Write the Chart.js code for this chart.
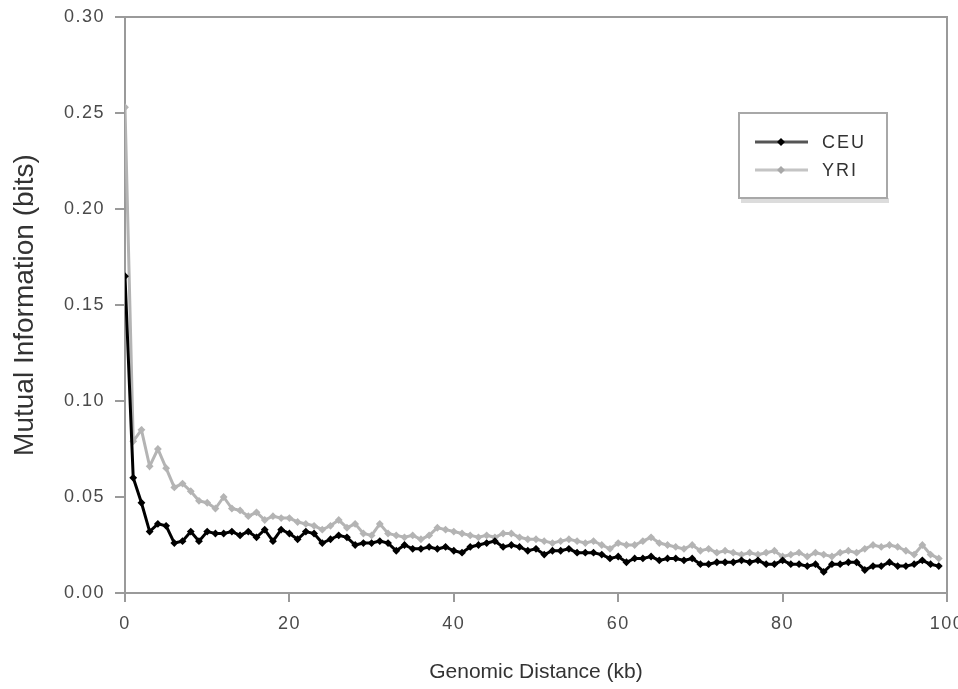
<!DOCTYPE html>
<html>
<head>
<meta charset="utf-8">
<script src="https://cdn.jsdelivr.net/npm/chart.js@4/dist/chart.umd.min.js"></script>
<style>
  html, body { margin: 0; padding: 0; background: #fff; }
  #wrap { position: relative; width: 958px; height: 689px; }
</style>
</head>
<body>
<div id="wrap"><canvas id="c" width="958" height="689"></canvas></div>
<script>
// Genomic distance (kb)
const distanceKb = Array.from({length: 100}, (_, i) => i);

const ceuValues = [
  0.165, 0.060, 0.047, 0.032, 0.036, 0.035, 0.026, 0.027, 0.032, 0.027,
  0.032, 0.031, 0.031, 0.032, 0.030, 0.032, 0.029, 0.033, 0.027, 0.033,
  0.031, 0.028, 0.032, 0.031, 0.026, 0.028, 0.030, 0.029, 0.025, 0.026,
  0.026, 0.027, 0.026, 0.022, 0.025, 0.023, 0.023, 0.024, 0.023, 0.024,
  0.022, 0.021, 0.024, 0.025, 0.026, 0.027, 0.024, 0.025, 0.024, 0.022,
  0.023, 0.020, 0.022, 0.022, 0.023, 0.021, 0.021, 0.021, 0.020, 0.018,
  0.019, 0.016, 0.018, 0.018, 0.019, 0.017, 0.018, 0.018, 0.017, 0.018,
  0.015, 0.015, 0.016, 0.016, 0.016, 0.017, 0.016, 0.017, 0.015, 0.015,
  0.017, 0.015, 0.015, 0.014, 0.015, 0.011, 0.015, 0.015, 0.016, 0.016,
  0.012, 0.014, 0.014, 0.016, 0.014, 0.014, 0.015, 0.017, 0.015, 0.014
];

const yriValues = [
  0.253, 0.079, 0.085, 0.066, 0.075, 0.065, 0.055, 0.057, 0.053, 0.048,
  0.047, 0.044, 0.050, 0.044, 0.043, 0.040, 0.042, 0.038, 0.040, 0.039,
  0.039, 0.037, 0.036, 0.035, 0.033, 0.035, 0.038, 0.034, 0.036, 0.031,
  0.030, 0.036, 0.031, 0.030, 0.029, 0.030, 0.028, 0.030, 0.034, 0.033,
  0.032, 0.031, 0.030, 0.029, 0.030, 0.029, 0.031, 0.031, 0.029, 0.028,
  0.028, 0.027, 0.026, 0.027, 0.028, 0.027, 0.026, 0.027, 0.025, 0.023,
  0.026, 0.025, 0.025, 0.027, 0.029, 0.026, 0.025, 0.024, 0.023, 0.025,
  0.022, 0.023, 0.021, 0.022, 0.021, 0.020, 0.021, 0.020, 0.021, 0.022,
  0.019, 0.020, 0.021, 0.019, 0.021, 0.020, 0.019, 0.021, 0.022, 0.021,
  0.023, 0.025, 0.024, 0.025, 0.024, 0.022, 0.020, 0.025, 0.020, 0.018
];

const seriesNames = ['CEU', 'YRI'];
const xTickValues = [0, 20, 40, 60, 80, 100];
const yTickValues = [0.00, 0.05, 0.10, 0.15, 0.20, 0.25, 0.30];

const AXIS = '#9a9a9a';
const FONT = "'Liberation Sans', Arial, sans-serif";

function spaceLabels(scale, spacing) {
  if (scale._spacedLabels) return;
  const orig = scale.drawLabels;
  scale.drawLabels = function (area) {
    const ctx = this.ctx;
    ctx.save();
    ctx.letterSpacing = spacing;
    orig.call(this, area);
    ctx.restore();
  };
  scale._spacedLabels = true;
}

const frameAndLegend = {
  id: 'frameAndLegend',
  beforeDatasetsDraw(chart) {
    const {ctx, chartArea: a} = chart;
    ctx.save();
    ctx.strokeStyle = AXIS;
    ctx.lineWidth = 2;
    ctx.beginPath();
    ctx.moveTo(a.left, a.top);
    ctx.lineTo(a.right, a.top);
    ctx.lineTo(a.right, a.bottom);
    ctx.stroke();
    ctx.restore();
  },
  afterDraw(chart) {
    const {ctx, chartArea: a} = chart;
    const bx = a.right - 208, by = a.top + 96, bw = 148, bh = 85;
    ctx.save();
    ctx.fillStyle = '#dcdcdc';
    ctx.fillRect(bx + 2, by + bh, bw, 5);
    ctx.fillStyle = '#fff';
    ctx.fillRect(bx, by, bw, bh);
    ctx.strokeStyle = '#a8a8a8';
    ctx.lineWidth = 2;
    ctx.strokeRect(bx, by, bw, bh);
    const legendLine = ['#555555', '#c4c4c4'];
    const legendMark = ['#000000', '#a8a8a8'];
    chart.data.datasets.forEach((ds, i) => {
      const ly = by + 29 + i * 28;
      ctx.strokeStyle = legendLine[i];
      ctx.lineWidth = 3;
      ctx.beginPath();
      ctx.moveTo(bx + 16, ly);
      ctx.lineTo(bx + 69, ly);
      ctx.stroke();
      ctx.fillStyle = legendMark[i];
      ctx.beginPath();
      ctx.moveTo(bx + 42, ly - 4);
      ctx.lineTo(bx + 46, ly);
      ctx.lineTo(bx + 42, ly + 4);
      ctx.lineTo(bx + 38, ly);
      ctx.closePath();
      ctx.fill();
      ctx.fillStyle = '#333';
      ctx.font = '18px ' + FONT;
      ctx.letterSpacing = '2px';
      ctx.textBaseline = 'middle';
      ctx.textAlign = 'left';
      ctx.fillText(ds.label, bx + 83, ly + 1);
    });
    ctx.restore();
  }
};

new Chart(document.getElementById('c'), {
  type: 'line',
  data: {
    labels: distanceKb,
    datasets: [
      {
        label: seriesNames[0],
        data: distanceKb.map((x, i) => ({x, y: ceuValues[i]})),
        borderColor: '#000000',
        backgroundColor: '#000000',
        borderWidth: 3,
        pointRadius: 1.8,
        pointStyle: 'rectRot',
        tension: 0,
        order: 1
      },
      {
        label: seriesNames[1],
        data: distanceKb.map((x, i) => ({x, y: yriValues[i]})),
        borderColor: '#b4b4b4',
        backgroundColor: '#a0a0a0',
        borderWidth: 3,
        pointRadius: 1.8,
        pointStyle: 'rectRot',
        tension: 0,
        order: 2
      }
    ]
  },
  options: {
    responsive: false,
    animation: false,
    devicePixelRatio: 1,
    layout: { padding: { left: 0, right: 11, top: 17, bottom: 0 } },
    plugins: { legend: { display: false }, tooltip: { enabled: false } },
    scales: {
      x: {
        type: 'linear',
        min: 0, max: 100,
        afterBuildTicks(scale) { scale.ticks = xTickValues.map(v => ({value: v})); },
        afterFit(scale) { scale.height = 96; scale.paddingLeft = 0; scale.paddingRight = 0; spaceLabels(scale, '1.5px'); },
        border: { display: true, color: AXIS, width: 2 },
        grid: { display: true, drawOnChartArea: false, drawTicks: true, tickLength: 9, color: AXIS, lineWidth: 2 },
        ticks: { color: '#4a4a4a', font: { family: FONT, size: 18 }, padding: 11, maxRotation: 0, autoSkip: false },
        title: { display: true, text: 'Genomic Distance (kb)', color: '#333', font: { family: FONT, size: 21 }, padding: { top: 0, bottom: 4 } }
      },
      y: {
        type: 'linear',
        min: 0, max: 0.30,
        afterBuildTicks(scale) { scale.ticks = yTickValues.map(v => ({value: v})); },
        afterFit(scale) { scale.width = 125; scale.paddingTop = 0; scale.paddingBottom = 0; spaceLabels(scale, '1.5px'); },
        border: { display: true, color: AXIS, width: 2 },
        grid: { display: true, drawOnChartArea: false, drawTicks: true, tickLength: 10, color: AXIS, lineWidth: 2 },
        ticks: { color: '#4a4a4a', font: { family: FONT, size: 18 }, padding: 10, callback: v => v.toFixed(2) },
        title: { display: true, text: 'Mutual Information (bits)', color: '#333', font: { family: FONT, size: 28 }, padding: { top: 8, bottom: 0 } }
      }
    }
  },
  plugins: [frameAndLegend]
});
</script>
</body>
</html>
